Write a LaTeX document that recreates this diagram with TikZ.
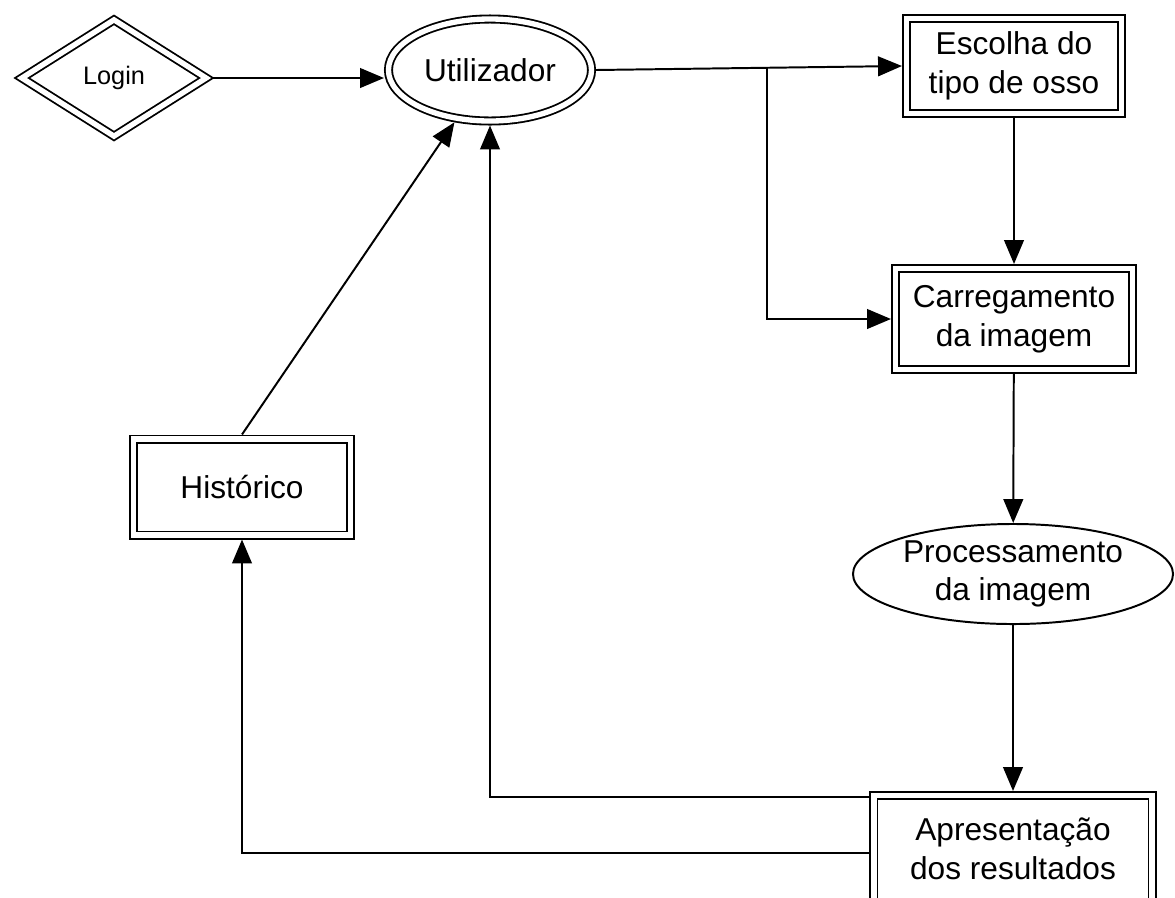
\documentclass[tikz,border=0pt]{standalone}
\usepackage{fontspec}
\setmainfont{Liberation Sans}
\usetikzlibrary{positioning, arrows.meta, shapes.geometric, calc}

\tikzset{
    % double-ruled rectangle (screens)
    dbox/.style={
        draw,
        rectangle,
        line width=1.3pt,
        double,
        double distance=3.8pt,
        inner sep=0pt,
        outer sep=3.2pt,
        align=center,
        font=\fontsize{22.5}{27.5}\selectfont
    },
    % double-ruled ellipse (user)
    dellipse/.style={
        draw,
        ellipse,
        line width=1.3pt,
        double,
        double distance=3.8pt,
        inner sep=0pt,
        outer sep=3.2pt,
        align=center,
        font=\fontsize{22.5}{27.5}\selectfont
    },
    % double-ruled diamond (login)
    ddiamond/.style={
        draw,
        diamond,
        line width=1.3pt,
        double,
        double distance=3.8pt,
        inner sep=0pt,
        outer sep=3.2pt,
        font=\fontsize{18}{21}\selectfont
    },
    % single ellipse (processing step)
    sellipse/.style={
        draw,
        ellipse,
        line width=1.4pt,
        inner sep=0pt,
        align=center,
        font=\fontsize{22.5}{27.5}\selectfont
    },
    % connector
    flow/.style={
        -{Triangle[length=17pt, width=14pt]},
        line width=1.4pt
    }
}

\begin{document}
\begin{tikzpicture}[x=0.025cm, y=-0.025cm]

    \useasboundingbox (0,0) rectangle (1175,897);
    \clip (0,0) rectangle (1175,897);

    % Entry
    \node[ddiamond, minimum width=4.7cm, minimum height=3cm] (login) at (114,78) {Login};
    \node[dellipse, minimum width=5.075cm, minimum height=2.55cm] (user) at (490,70) {Utilizador};

    % Right column
    \node[dbox, minimum width=5.375cm, minimum height=2.375cm] (escolha) at (1014,66) {Escolha do\\tipo de osso};
    \node[dbox, minimum width=5.925cm, minimum height=2.525cm] (carga) at (1014,319) {Carregamento\\da imagem};
    \node[sellipse, minimum width=8cm, minimum height=2.5cm] (proc) at (1013,574) {Processamento\\da imagem};
    \node[dbox, minimum width=6.95cm, minimum height=2.675cm] (apres) at (1013,849) {Apresentação\\dos resultados};

    % History
    \node[dbox, minimum width=5.425cm, minimum height=2.4cm] (hist) at (242,487) {Histórico};

    % Main flow
    \draw[flow] (login.east) -- (login.east -| user.west);
    \draw[flow] (user.east) -- (escolha.west) coordinate[pos=0.56] (fork);
    \draw[flow] (fork) |- (carga.west);
    \draw[flow] (escolha) -- (carga);
    \draw[flow] (carga) -- (proc);
    \draw[flow] (proc) -- (apres);

    % Return paths
    \draw[flow] ($(apres.north west)+(0,6)$) -| (user.south);
    \draw[flow] ($(apres.west)+(0,4)$) -| (hist.south);
    \draw[flow] (hist.north) -- (user);

\end{tikzpicture}
\end{document}
